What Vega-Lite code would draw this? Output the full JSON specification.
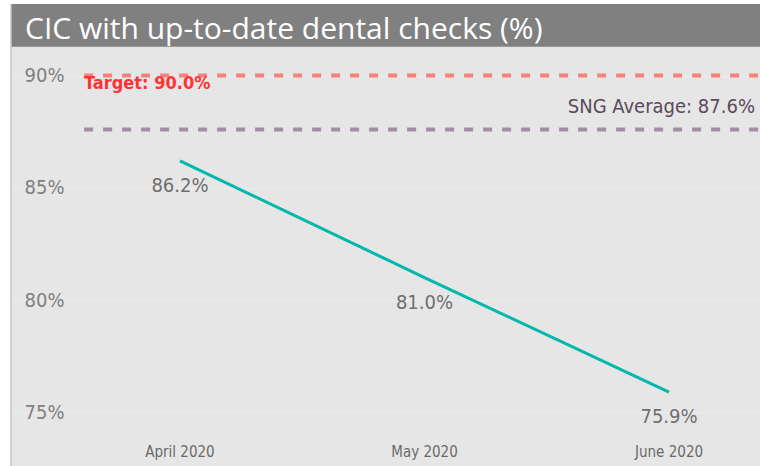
{
  "$schema": "https://vega.github.io/schema/vega-lite/v6.json",
  "autosize": "none",
  "width": 749,
  "height": 462,
  "padding": {"left": 11, "top": 4, "right": 0, "bottom": 0},
  "background": "#ffffff",
  "config": {
    "view": {"fill": "#e6e6e6", "stroke": null},
    "font": "Liberation Sans Narrow, DejaVu Sans Condensed, sans-serif"
  },
  "datasets": {
    "months": [
      {"month": "April 2020", "order": 0, "pct": 0.862},
      {"month": "May 2020", "order": 1, "pct": 0.810},
      {"month": "June 2020", "order": 2, "pct": 0.759}
    ],
    "refs": [
      {"name": "Target", "value": 0.900},
      {"name": "SNG Average", "value": 0.876}
    ],
    "heading": [
      {"title": "CIC with up-to-date dental checks (%)"}
    ]
  },
  "layer": [
    {
      "data": {"name": "heading"},
      "mark": {"type": "rect", "color": "#808080"},
      "encoding": {
        "y": {"datum": 0.93185, "type": "quantitative",
              "scale": {"domain": [0.72606, 0.93185], "nice": false, "zero": false},
              "axis": {"orient": "left", "offset": -53, "values": [0.75, 0.80, 0.85, 0.90], "format": ".0%",
                       "ticks": false, "domain": false, "labelPadding": 0, "labelFontSize": 20,
                       "labelColor": "#808080", "grid": true, "gridColor": "#ececec", "gridWidth": 1.5, "title": null,
                       "labelBaseline": "middle"}},
        "y2": {"datum": 0.91283}
      }
    },
    {
      "data": {"name": "heading"},
      "mark": {"type": "text", "align": "left", "baseline": "alphabetic", "dx": 14, "color": "#ffffff",
               "fontSize": 30, "font": "Open Sans"},
      "encoding": {
        "x": {"datum": -0.691, "type": "quantitative",
              "scale": {"domain": [-0.691, 2.372], "nice": false, "zero": false}, "axis": null},
        "y": {"datum": 0.91626, "type": "quantitative"},
        "text": {"field": "title"}
      }
    },
    {
      "data": {"name": "heading"},
      "mark": {"type": "rule", "color": "#c4c4c4", "strokeWidth": 1.5},
      "encoding": {
        "x": {"datum": -0.691, "type": "quantitative"}
      }
    },
    {
      "data": {"name": "refs"},
      "mark": {"type": "rule", "strokeDash": [9, 10], "strokeWidth": 4},
      "encoding": {
        "x": {"datum": -0.392, "type": "quantitative"},
        "x2": {"datum": 2.372},
        "y": {"field": "value", "type": "quantitative"},
        "color": {"field": "name", "type": "nominal",
                  "scale": {"domain": ["Target", "SNG Average"], "range": ["#f4827b", "#a08fa0"]},
                  "legend": null}
      }
    },
    {
      "data": {"name": "refs"},
      "transform": [
        {"filter": "datum.name == 'Target'"},
        {"calculate": "datum.name + ': ' + format(datum.value, '.1%')", "as": "label"}
      ],
      "mark": {"type": "text", "align": "left", "baseline": "alphabetic", "dy": 13, "color": "#ff3333",
               "fontSize": 18, "fontWeight": "bold"},
      "encoding": {
        "x": {"datum": -0.392, "type": "quantitative"},
        "y": {"field": "value", "type": "quantitative"},
        "text": {"field": "label"}
      }
    },
    {
      "data": {"name": "refs"},
      "transform": [
        {"filter": "datum.name == 'SNG Average'"},
        {"calculate": "datum.name + ': ' + format(datum.value, '.1%')", "as": "label"}
      ],
      "mark": {"type": "text", "align": "right", "baseline": "alphabetic", "dy": -16, "dx": -5, "color": "#5b4a5b",
               "fontSize": 20},
      "encoding": {
        "x": {"datum": 2.372, "type": "quantitative"},
        "y": {"field": "value", "type": "quantitative"},
        "text": {"field": "label"}
      }
    },
    {
      "data": {"name": "months"},
      "mark": {"type": "line", "color": "#01B8AA", "strokeWidth": 3},
      "encoding": {
        "x": {"field": "order", "type": "quantitative"},
        "y": {"field": "pct", "type": "quantitative"}
      }
    },
    {
      "data": {"name": "months"},
      "mark": {"type": "text", "baseline": "middle", "dy": 25, "color": "#6e6e6e", "fontSize": 20},
      "encoding": {
        "x": {"field": "order", "type": "quantitative"},
        "y": {"field": "pct", "type": "quantitative"},
        "text": {"field": "pct", "type": "quantitative", "format": ".1%"}
      }
    },
    {
      "data": {"name": "months"},
      "mark": {"type": "text", "baseline": "middle", "color": "#6a6a6a", "fontSize": 15},
      "encoding": {
        "x": {"field": "order", "type": "quantitative"},
        "y": {"datum": 0.7323, "type": "quantitative"},
        "text": {"field": "month"}
      }
    }
  ]
}
